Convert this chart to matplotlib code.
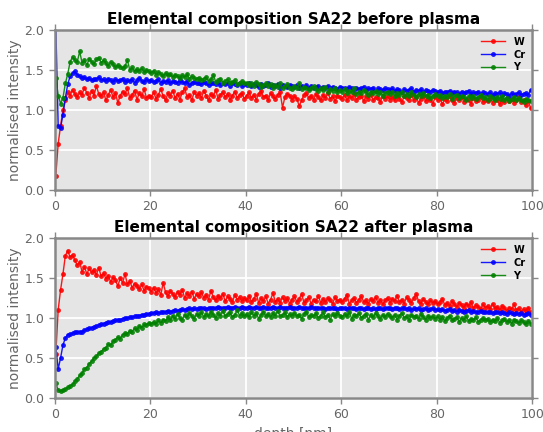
import numpy as np
import matplotlib
matplotlib.use('Agg')
import matplotlib.pyplot as plt

# depth grid of the profiles [nm]
depth = 0.2 + 0.5 * np.arange(200)

### before plasma
w_before = [
    0.18, 0.58, 0.80, 1.00, 1.12, 1.22, 1.18, 1.25, 1.20, 1.16, 1.22, 1.19, 1.28, 1.21, 1.15, 1.24, 1.18, 1.30, 1.20, 1.17,
    1.22, 1.12, 1.19, 1.25, 1.16, 1.21, 1.09, 1.18, 1.23, 1.20, 1.27, 1.15, 1.19, 1.24, 1.13, 1.21, 1.17, 1.26, 1.15, 1.18,
    1.16, 1.22, 1.14, 1.19, 1.26, 1.17, 1.12, 1.21, 1.18, 1.24, 1.15, 1.20, 1.13, 1.22, 1.27, 1.16, 1.19, 1.12, 1.23, 1.18,
    1.21, 1.15, 1.24, 1.18, 1.12, 1.20, 1.17, 1.25, 1.14, 1.19, 1.22, 1.16, 1.20, 1.13, 1.18, 1.23, 1.15, 1.19, 1.21, 1.14,
    1.18, 1.22, 1.15, 1.19, 1.13, 1.20, 1.24, 1.16, 1.18, 1.12, 1.21, 1.17, 1.14, 1.19, 1.22, 1.03, 1.16, 1.20, 1.18, 1.13,
    1.17, 1.14, 1.05, 1.12, 1.19, 1.21, 1.15, 1.18, 1.13, 1.20, 1.16, 1.12, 1.19, 1.15, 1.21, 1.14, 1.17, 1.11, 1.18, 1.16,
    1.14, 1.19, 1.12, 1.17, 1.15, 1.20, 1.13, 1.16, 1.18, 1.11, 1.17, 1.14, 1.19, 1.12, 1.16, 1.15, 1.10, 1.18, 1.14, 1.17,
    1.13, 1.16, 1.12, 1.18, 1.14, 1.10, 1.17, 1.15, 1.13, 1.19, 1.12, 1.16, 1.09, 1.14, 1.17, 1.11, 1.15, 1.13, 1.08, 1.16,
    1.12, 1.15, 1.07, 1.14, 1.11, 1.17, 1.13, 1.09, 1.15, 1.12, 1.16, 1.10, 1.14, 1.12, 1.08, 1.15, 1.11, 1.13, 1.16, 1.10,
    1.13, 1.11, 1.15, 1.09, 1.14, 1.12, 1.07, 1.13, 1.10, 1.15, 1.11, 1.14, 1.09, 1.12, 1.16, 1.10, 1.13, 1.06, 1.11, 1.02]
cr_before = [
    2.05, 0.80, 0.78, 0.94, 1.15, 1.32, 1.42, 1.46, 1.48, 1.44, 1.42, 1.40, 1.41, 1.38, 1.40, 1.37, 1.39, 1.38, 1.41, 1.37,
    1.38, 1.36, 1.39, 1.37, 1.35, 1.38, 1.36, 1.37, 1.39, 1.35, 1.37, 1.36, 1.38, 1.34, 1.37, 1.40, 1.36, 1.35, 1.38, 1.36,
    1.37, 1.35, 1.36, 1.38, 1.34, 1.36, 1.35, 1.37, 1.33, 1.36, 1.35, 1.34, 1.37, 1.35, 1.33, 1.36, 1.31, 1.34, 1.35, 1.33,
    1.34, 1.32, 1.35, 1.33, 1.31, 1.34, 1.33, 1.32, 1.35, 1.31, 1.33, 1.32, 1.34, 1.30, 1.33, 1.32, 1.31, 1.34, 1.30, 1.32,
    1.31, 1.33, 1.30, 1.32, 1.31, 1.29, 1.32, 1.30, 1.31, 1.33, 1.29, 1.31, 1.30, 1.32, 1.28, 1.31, 1.30, 1.29, 1.31, 1.30,
    1.29, 1.31, 1.28, 1.30, 1.29, 1.31, 1.27, 1.30, 1.28, 1.29, 1.30, 1.27, 1.29, 1.28, 1.30, 1.27, 1.29, 1.28, 1.26, 1.29,
    1.27, 1.28, 1.26, 1.29, 1.27, 1.25, 1.28, 1.26, 1.27, 1.29, 1.25, 1.27, 1.26, 1.28, 1.24, 1.27, 1.26, 1.25, 1.27, 1.26,
    1.25, 1.27, 1.24, 1.26, 1.25, 1.23, 1.26, 1.24, 1.25, 1.27, 1.23, 1.25, 1.24, 1.26, 1.22, 1.25, 1.24, 1.23, 1.25, 1.24,
    1.22, 1.24, 1.21, 1.23, 1.22, 1.24, 1.21, 1.23, 1.22, 1.20, 1.23, 1.21, 1.22, 1.24, 1.20, 1.22, 1.21, 1.23, 1.20, 1.22,
    1.21, 1.20, 1.22, 1.19, 1.21, 1.20, 1.22, 1.19, 1.21, 1.20, 1.18, 1.21, 1.19, 1.20, 1.22, 1.19, 1.20, 1.21, 1.19, 1.25]
y_before = [
    1.40, 1.18, 1.08, 1.15, 1.33, 1.45, 1.60, 1.66, 1.62, 1.60, 1.73, 1.59, 1.62, 1.56, 1.64, 1.60, 1.57, 1.63, 1.65, 1.59,
    1.62, 1.58, 1.55, 1.60, 1.57, 1.53, 1.56, 1.54, 1.52, 1.55, 1.62, 1.50, 1.53, 1.48, 1.51, 1.49, 1.52, 1.47, 1.50, 1.48,
    1.46, 1.49, 1.44, 1.47, 1.45, 1.42, 1.46, 1.43, 1.45, 1.41, 1.44, 1.42, 1.40, 1.43, 1.41, 1.45, 1.39, 1.42, 1.40, 1.38,
    1.40, 1.37, 1.39, 1.41, 1.36, 1.38, 1.44, 1.35, 1.37, 1.39, 1.34, 1.36, 1.38, 1.33, 1.35, 1.37, 1.32, 1.34, 1.36, 1.33,
    1.34, 1.31, 1.33, 1.30, 1.35, 1.32, 1.29, 1.31, 1.33, 1.30, 1.32, 1.28, 1.31, 1.29, 1.33, 1.27, 1.30, 1.32, 1.28, 1.26,
    1.30, 1.27, 1.33, 1.26, 1.29, 1.27, 1.25, 1.28, 1.30, 1.26, 1.24, 1.27, 1.25, 1.29, 1.23, 1.26, 1.24, 1.27, 1.22, 1.25,
    1.23, 1.26, 1.21, 1.24, 1.22, 1.27, 1.20, 1.23, 1.21, 1.25, 1.22, 1.19, 1.23, 1.21, 1.24, 1.20, 1.22, 1.18, 1.21, 1.23,
    1.20, 1.22, 1.18, 1.21, 1.19, 1.23, 1.17, 1.20, 1.18, 1.22, 1.19, 1.16, 1.20, 1.18, 1.21, 1.17, 1.19, 1.15, 1.18, 1.20,
    1.17, 1.19, 1.15, 1.18, 1.16, 1.20, 1.14, 1.17, 1.19, 1.15, 1.18, 1.16, 1.13, 1.17, 1.15, 1.18, 1.14, 1.16, 1.19, 1.15,
    1.16, 1.13, 1.17, 1.15, 1.12, 1.16, 1.14, 1.18, 1.13, 1.15, 1.11, 1.14, 1.16, 1.12, 1.15, 1.13, 1.10, 1.14, 1.12, 1.11]

### after plasma
w_after = [
    0.55, 1.10, 1.35, 1.55, 1.78, 1.84, 1.76, 1.79, 1.72, 1.66, 1.70, 1.58, 1.64, 1.55, 1.62, 1.57, 1.60, 1.54, 1.63, 1.52,
    1.56, 1.49, 1.53, 1.45, 1.51, 1.47, 1.40, 1.50, 1.44, 1.55, 1.42, 1.46, 1.38, 1.43, 1.40, 1.36, 1.42, 1.34, 1.39, 1.37,
    1.33, 1.38, 1.31, 1.36, 1.29, 1.44, 1.32, 1.27, 1.34, 1.30, 1.26, 1.33, 1.29, 1.35, 1.25, 1.31, 1.28, 1.33, 1.24, 1.30,
    1.27, 1.32, 1.25, 1.29, 1.23, 1.34, 1.26, 1.22, 1.28, 1.25, 1.30, 1.21, 1.27, 1.24, 1.20, 1.29, 1.23, 1.26, 1.21, 1.25,
    1.22, 1.28, 1.20, 1.24, 1.30, 1.19, 1.25, 1.21, 1.27, 1.18, 1.23, 1.31, 1.20, 1.24, 1.19, 1.26, 1.21, 1.25, 1.18, 1.23,
    1.27, 1.20, 1.24, 1.30, 1.19, 1.22, 1.26, 1.18, 1.23, 1.21, 1.28, 1.19, 1.24, 1.20, 1.25, 1.22, 1.18, 1.26, 1.21, 1.23,
    1.20, 1.24, 1.29, 1.18, 1.22, 1.25, 1.19, 1.23, 1.27, 1.20, 1.22, 1.18, 1.24, 1.21, 1.26, 1.19, 1.23, 1.17, 1.22, 1.25,
    1.19, 1.24, 1.21, 1.28, 1.20, 1.23, 1.18, 1.26, 1.22, 1.19, 1.25, 1.30, 1.21, 1.18, 1.24, 1.20, 1.17, 1.22, 1.19, 1.21,
    1.17, 1.20, 1.24, 1.16, 1.19, 1.15, 1.21, 1.17, 1.14, 1.19, 1.16, 1.13, 1.18, 1.15, 1.20, 1.12, 1.16, 1.14, 1.11, 1.17,
    1.13, 1.15, 1.11, 1.18, 1.12, 1.14, 1.10, 1.15, 1.12, 1.09, 1.13, 1.11, 1.17, 1.10, 1.12, 1.08, 1.11, 1.09, 1.13, 1.07]
cr_after = [
    0.64, 0.36, 0.50, 0.66, 0.75, 0.79, 0.80, 0.81, 0.82, 0.82, 0.83, 0.83, 0.85, 0.86, 0.87, 0.88, 0.89, 0.90, 0.91, 0.92,
    0.93, 0.94, 0.95, 0.95, 0.96, 0.97, 0.98, 0.98, 0.99, 1.00, 1.00, 1.01, 1.01, 1.02, 1.03, 1.03, 1.04, 1.04, 1.05, 1.05,
    1.06, 1.06, 1.07, 1.06, 1.07, 1.08, 1.08, 1.09, 1.08, 1.09, 1.10, 1.09, 1.10, 1.11, 1.10, 1.11, 1.12, 1.11, 1.12, 1.11,
    1.12, 1.13, 1.12, 1.11, 1.13, 1.12, 1.13, 1.12, 1.14, 1.13, 1.12, 1.13, 1.14, 1.12, 1.13, 1.14, 1.13, 1.12, 1.14, 1.13,
    1.13, 1.14, 1.12, 1.13, 1.14, 1.13, 1.12, 1.14, 1.13, 1.12, 1.13, 1.14, 1.13, 1.12, 1.14, 1.13, 1.12, 1.13, 1.14, 1.12,
    1.13, 1.12, 1.14, 1.13, 1.12, 1.13, 1.12, 1.14, 1.13, 1.12, 1.13, 1.12, 1.13, 1.11, 1.13, 1.12, 1.13, 1.12, 1.11, 1.13,
    1.12, 1.13, 1.11, 1.12, 1.13, 1.12, 1.11, 1.13, 1.12, 1.11, 1.12, 1.13, 1.11, 1.12, 1.11, 1.13, 1.12, 1.11, 1.12, 1.13,
    1.12, 1.11, 1.13, 1.12, 1.11, 1.12, 1.13, 1.11, 1.12, 1.10, 1.12, 1.11, 1.12, 1.10, 1.11, 1.12, 1.10, 1.11, 1.12, 1.10,
    1.11, 1.10, 1.11, 1.09, 1.10, 1.11, 1.09, 1.10, 1.08, 1.10, 1.09, 1.08, 1.09, 1.10, 1.08, 1.09, 1.07, 1.08, 1.09, 1.07,
    1.08, 1.07, 1.08, 1.06, 1.07, 1.08, 1.06, 1.07, 1.06, 1.05, 1.07, 1.06, 1.05, 1.06, 1.05, 1.06, 1.04, 1.05, 1.06, 1.04]
y_after = [
    0.18, 0.10, 0.08, 0.10, 0.11, 0.13, 0.15, 0.17, 0.21, 0.24, 0.28, 0.31, 0.36, 0.38, 0.43, 0.46, 0.50, 0.52, 0.56, 0.58,
    0.61, 0.63, 0.67, 0.66, 0.71, 0.73, 0.76, 0.74, 0.79, 0.81, 0.80, 0.84, 0.83, 0.87, 0.85, 0.90, 0.88, 0.92, 0.91, 0.94,
    0.92, 0.95, 0.93, 0.97, 0.94, 0.98, 0.96, 1.01, 0.97, 1.03, 0.99, 1.05, 1.00, 0.98, 1.04, 1.01, 1.06, 1.02, 0.99, 1.05,
    1.03, 1.07, 1.01, 1.05, 1.02, 1.08, 1.04, 1.00, 1.06, 1.03, 1.09, 1.02, 1.05, 1.07, 1.01, 1.04, 1.10, 1.03, 1.06, 1.02,
    1.05, 1.01, 1.07, 1.03, 1.06, 0.99, 1.04, 1.08, 1.02, 1.05, 1.01, 1.06, 1.03, 1.09, 1.02, 1.04, 1.07, 1.01, 1.05, 1.03,
    1.06, 1.02, 1.04, 0.99, 1.05, 1.08, 1.01, 1.04, 1.02, 1.06, 1.00, 1.03, 1.07, 1.01, 1.04, 0.98, 1.05, 1.02, 1.06, 1.03,
    1.01, 1.05, 1.02, 1.07, 0.99, 1.04, 1.02, 1.06, 1.00, 1.03, 1.05, 0.98, 1.04, 1.01, 1.06, 1.02, 0.99, 1.04, 1.01, 1.05,
    1.02, 1.00, 1.04, 0.98, 1.03, 1.06, 1.00, 1.02, 0.97, 1.04, 1.01, 1.03, 0.99, 1.05, 1.01, 0.98, 1.03, 1.00, 1.02, 0.99,
    1.02, 0.98, 1.01, 0.96, 1.00, 1.03, 0.97, 0.99, 1.01, 0.95, 1.00, 0.98, 1.02, 0.96, 0.99, 0.97, 1.01, 0.95, 0.98, 1.00,
    0.97, 0.99, 0.95, 0.98, 0.96, 1.00, 0.94, 0.97, 0.99, 0.95, 0.97, 0.93, 0.98, 0.96, 0.94, 0.97, 0.95, 0.92, 0.96, 0.93]

fig = plt.figure(figsize=(5.43, 4.32), dpi=100)
ax1 = fig.add_axes([0.101, 0.56, 0.879, 0.371])
ax2 = fig.add_axes([0.101, 0.079, 0.879, 0.370])

panels = [(ax1, w_before, cr_before, y_before, 'Elemental composition SA22 before plasma'),
          (ax2, w_after, cr_after, y_after, 'Elemental composition SA22 after plasma')]

for ax, w, cr, yy, title in panels:
    ax.set_facecolor('#E5E5E5')
    ax.plot(depth, w, '-o', color='red', lw=1, ms=3.5, mec='none', alpha=0.9, label='W')
    ax.plot(depth, cr, '-o', color='blue', lw=1, ms=3.5, mec='none', alpha=0.9, label='Cr')
    ax.plot(depth, yy, '-o', color='green', lw=1, ms=3.5, mec='none', alpha=0.9, label='Y')
    ax.set_xlim(0, 100)
    ax.set_ylim(0, 2)
    ax.set_xticks([0, 20, 40, 60, 80, 100])
    ax.set_yticks([0.0, 0.5, 1.0, 1.5, 2.0])
    ax.grid(True, color='white', lw=1.3)
    ax.set_axisbelow(True)
    for s in ax.spines.values():
        s.set_color('#888888')
        s.set_linewidth(1.8)
    ax.tick_params(direction='out', color='#888888', labelcolor='#666666', labelsize=9,
                   top=True, right=True, length=4, width=1)
    ax.set_ylabel('normalised intensity', color='#666666', fontsize=10, labelpad=2)
    ax.set_title(title, fontsize=11, fontweight='bold', pad=4)
    leg = ax.legend(loc='upper right', frameon=False, prop={'size': 7, 'weight': 'bold'},
                    handlelength=2.5, borderaxespad=0.3, labelspacing=0.3)

ax2.set_xlabel('depth [nm]', color='#666666', fontsize=10)

plt.savefig('out.png', dpi=100)
